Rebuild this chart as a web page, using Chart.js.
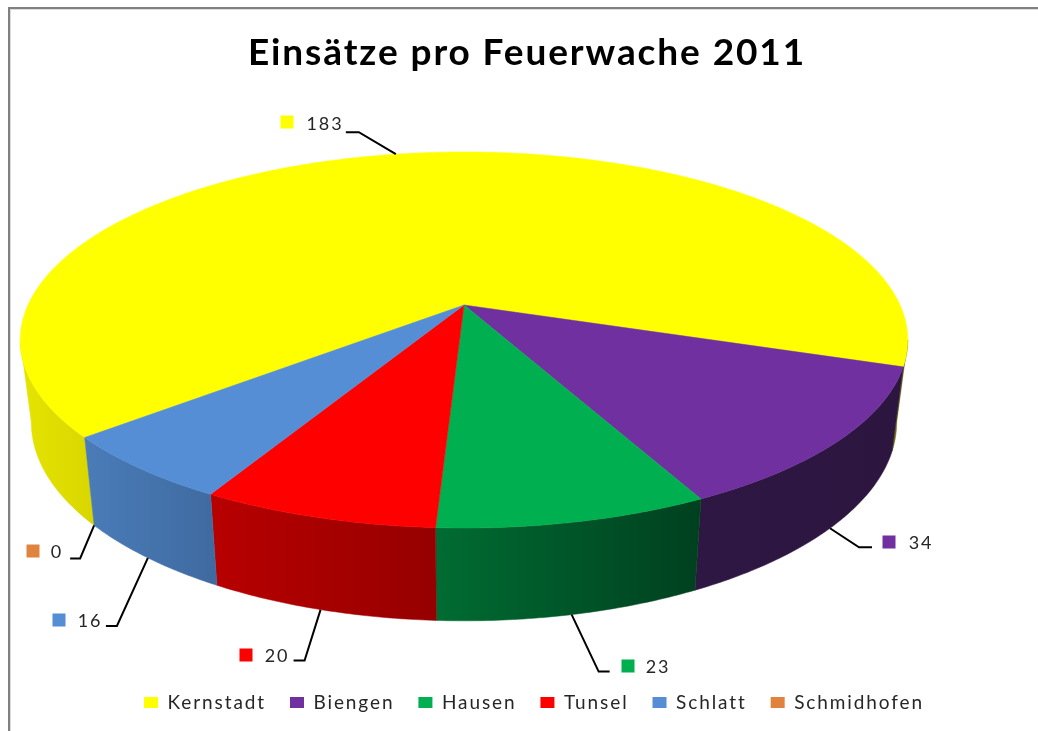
<!DOCTYPE html>
<html>
<head>
<meta charset="utf-8">
<title>Einsätze pro Feuerwache 2011</title>
<script src="https://cdn.jsdelivr.net/npm/chart.js@4/dist/chart.umd.min.js"></script>
<style>
  html, body { margin: 0; padding: 0; background: #fff; }
  canvas { display: block; }
</style>
</head>
<body>
<canvas id="pie" width="1038" height="731"></canvas>
<script>
  const chartTitle = 'Einsätze pro Feuerwache 2011';
  const stations = ['Kernstadt', 'Biengen', 'Hausen', 'Tunsel', 'Schlatt', 'Schmidhofen'];
  const missions = [183, 34, 23, 20, 16, 0];
  const topColors = ['#ffff00', '#7030a0', '#00b050', '#ff0000', '#558ed5', '#e0833f'];

  // wall shading, one [left, right] pair per visible piece of a slice
  const wallShades = [
    [['#e6e400', '#d8d600'], ['#77770a', '#5a5a00']],
    [['#2e1742', '#2c1640']],
    [['#006c32', '#00401f']],
    [['#b80000', '#960000']],
    [['#4a7cb8', '#3f6aa0']],
    [['#c06f35', '#c06f35']],
  ];

  // label layout: leader elbow and tail relative to the rim, then text and marker
  const leaderElbow = [[-37, -22], [29, 19], [27, 57], [-16, 51], [-31, 68], [-14, 33]];
  const leaderTail = [-13, 13, 11, -11, -11, -10];
  const textCentre = [[325, 124], [921, 543], [658, 667], [277, 656], [90, 621], [57, 552]];
  const markerCentre = [[287, 122], [889, 542], [628, 666], [246, 655], [59, 620], [33, 551]];

  // perspective of the disc, fitted to the ellipse in the picture
  const CX = 464, CY = 305, RX = 436, RY = 181.5, TILT = 0.186;
  const BOTTOM_Y = 385.6, BOTTOM_SX = 0.975, BOTTOM_SY = 1.055;
  const FACE_FROM = 10.7 * Math.PI / 180, FACE_TO = 169.3 * Math.PI / 180;
  const TWO_PI = Math.PI * 2;
  const TEXT_SPACING = '1.9px';
  const LABEL_FONT = '18px Lato';

  function project(a, bottom) {
    const c = Math.cos(a), s = Math.sin(a), d = 1 - TILT * s;
    if (bottom) return [CX + BOTTOM_SX * RX * c / d, BOTTOM_Y + BOTTOM_SY * RY * s / d];
    return [CX + RX * c / d, CY + RY * s / d];
  }

  function facingPieces(start, end) {
    const out = [];
    for (const shift of [0, TWO_PI]) {
      const a = Math.max(start, FACE_FROM + shift);
      const b = Math.min(end, FACE_TO + shift);
      if (b > a) out.push([a, b]);
    }
    return out;
  }

  function arcPoints(a, b, bottom) {
    const n = Math.max(2, Math.ceil((b - a) / 0.01));
    const pts = [];
    for (let i = 0; i <= n; i++) pts.push(project(a + (b - a) * i / n, bottom));
    return pts;
  }

  function tracePoints(ctx, pts) {
    ctx.beginPath();
    pts.forEach((p, i) => (i ? ctx.lineTo(p[0], p[1]) : ctx.moveTo(p[0], p[1])));
    ctx.closePath();
  }

  const pie3d = {
    id: 'pie3d',
    beforeLayout(chart) {
      chart.ctx.letterSpacing = TEXT_SPACING;
    },
    afterLayout(chart) {
      // legend sits a little right of the title in the original
      chart.legend.left += 7;
      chart.legend.right += 7;
    },
    beforeDraw(chart) {
      const ctx = chart.ctx;
      ctx.letterSpacing = TEXT_SPACING;
      ctx.save();
      ctx.fillStyle = '#fff';
      ctx.fillRect(0, 0, chart.width, chart.height);
      ctx.fillStyle = '#dcdcdc';
      ctx.fillRect(10, 9, chart.width - 10, 1);
      ctx.fillRect(10, 9, 1, chart.height - 9);
      ctx.fillStyle = '#808080';
      ctx.fillRect(8, 7, chart.width - 8, 2);
      ctx.fillRect(8, 7, 2, chart.height - 7);
      ctx.restore();
    },
    beforeDatasetDraw(chart, args) {
      const ctx = chart.ctx;
      const arcs = chart.getDatasetMeta(args.index).data;
      ctx.save();
      arcs.forEach((arc, i) => {
        facingPieces(arc.startAngle, arc.endAngle).forEach((piece, k) => {
          const top = arcPoints(piece[0], piece[1], false);
          const low = arcPoints(piece[0], piece[1], true).reverse();
          const pts = top.concat(low);
          const xs = pts.map(p => p[0]);
          const g = ctx.createLinearGradient(Math.min(...xs), 0, Math.max(...xs), 0);
          const shade = wallShades[i][k] || wallShades[i][0];
          g.addColorStop(0, shade[0]);
          g.addColorStop(1, shade[1]);
          tracePoints(ctx, pts);
          ctx.fillStyle = g;
          ctx.strokeStyle = g;
          ctx.lineWidth = 0.5;
          ctx.fill();
          ctx.stroke();
        });
      });
      arcs.forEach((arc, i) => {
        if (arc.endAngle <= arc.startAngle) return;
        tracePoints(ctx, [[CX, CY]].concat(arcPoints(arc.startAngle, arc.endAngle, false)));
        ctx.fillStyle = topColors[i];
        ctx.strokeStyle = topColors[i];
        ctx.lineWidth = 0.5;
        ctx.fill();
        ctx.stroke();
      });
      ctx.restore();
      return false;
    },
    afterDatasetsDraw(chart) {
      const ctx = chart.ctx;
      const arcs = chart.getDatasetMeta(0).data;
      ctx.save();
      arcs.forEach((arc, i) => {
        const mid = (arc.startAngle + arc.endAngle) / 2;
        const start = project(mid, Math.sin(mid) > 0);
        const elbow = [start[0] + leaderElbow[i][0], start[1] + leaderElbow[i][1]];
        ctx.beginPath();
        ctx.moveTo(start[0], start[1]);
        ctx.lineTo(elbow[0], elbow[1]);
        ctx.lineTo(elbow[0] + leaderTail[i], elbow[1]);
        ctx.strokeStyle = '#000';
        ctx.lineWidth = 2;
        ctx.stroke();

        ctx.fillStyle = topColors[i];
        ctx.fillRect(markerCentre[i][0] - 6.5, markerCentre[i][1] - 6.5, 13, 13);

        ctx.font = LABEL_FONT;
        ctx.fillStyle = '#262626';
        ctx.textAlign = 'center';
        ctx.textBaseline = 'middle';
        ctx.fillText(String(missions[i]), textCentre[i][0], textCentre[i][1]);
      });
      ctx.restore();
    },
  };

  new Chart(document.getElementById('pie'), {
    type: 'pie',
    data: {
      labels: stations,
      datasets: [{ data: missions, backgroundColor: topColors, borderWidth: 0 }],
    },
    options: {
      responsive: false,
      animation: false,
      rotation: 230,
      layout: { padding: { left: 16, top: 31, bottom: 9 } },
      plugins: {
        tooltip: { enabled: false },
        title: {
          display: true,
          text: chartTitle,
          color: '#000',
          font: { family: 'Lato', size: 37, weight: 'bold' },
          padding: 0,
        },
        legend: {
          position: 'bottom',
          labels: {
            color: '#262626',
            font: { family: 'Lato', size: 19 },
            boxWidth: 14,
            boxHeight: 11,
            padding: 24,
          },
        },
      },
    },
    plugins: [pie3d],
  });
</script>
</body>
</html>
